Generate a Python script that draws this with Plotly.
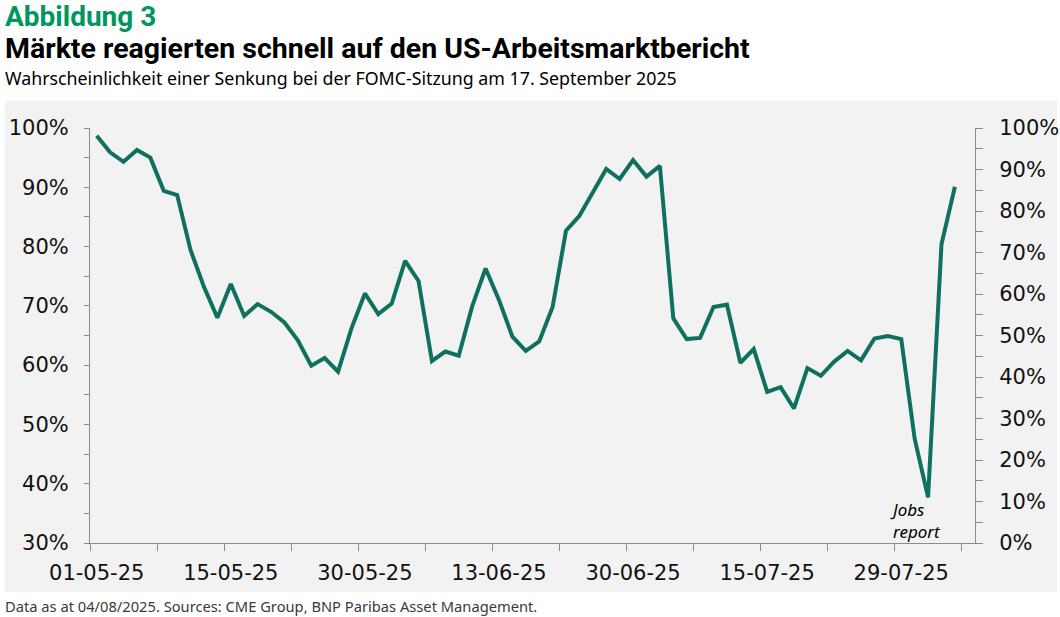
import plotly.graph_objects as go

# ---- data -------------------------------------------------------------
dates = [
    "2025-05-01", "2025-05-02", "2025-05-05", "2025-05-06", "2025-05-07", "2025-05-08", "2025-05-09",
    "2025-05-12", "2025-05-13", "2025-05-14", "2025-05-15", "2025-05-16", "2025-05-19", "2025-05-20",
    "2025-05-21", "2025-05-22", "2025-05-23", "2025-05-27", "2025-05-28", "2025-05-29", "2025-05-30",
    "2025-06-02", "2025-06-03", "2025-06-04", "2025-06-05", "2025-06-06", "2025-06-09", "2025-06-10",
    "2025-06-11", "2025-06-12", "2025-06-13", "2025-06-16", "2025-06-17", "2025-06-18", "2025-06-20",
    "2025-06-23", "2025-06-24", "2025-06-25", "2025-06-26", "2025-06-27", "2025-06-30",
    "2025-07-01", "2025-07-02", "2025-07-03", "2025-07-07", "2025-07-08", "2025-07-09", "2025-07-10",
    "2025-07-11", "2025-07-14", "2025-07-15", "2025-07-16", "2025-07-17", "2025-07-18", "2025-07-21",
    "2025-07-22", "2025-07-23", "2025-07-24", "2025-07-25", "2025-07-28", "2025-07-29", "2025-07-30",
    "2025-07-31", "2025-08-01", "2025-08-04",
]

cut_probability = [
    98.7, 95.9, 94.3, 96.3, 95.0, 89.4, 88.7, 79.4, 73.2, 68.0,
    73.7, 68.3, 70.3, 69.0, 67.2, 64.2, 59.9, 61.2, 58.9, 66.2,
    72.1, 68.6, 70.4, 77.6, 74.2, 60.7, 62.3, 61.6, 69.9, 76.3,
    71.0, 64.8, 62.4, 64.0, 69.8, 82.7, 85.2, 89.3, 93.1, 91.4,
    94.6, 91.8, 93.6, 67.9, 64.4, 64.6, 69.8, 70.2, 60.4, 62.7,
    55.5, 56.3, 52.7, 59.5, 58.2, 60.6, 62.4, 60.8, 64.5, 64.9,
    64.4, 47.6, 37.7, 80.4, 90.1,
]

tick_every = 10
tick_labels = ["01-05-25", "15-05-25", "30-05-25", "13-06-25", "30-06-25", "15-07-25", "29-07-25"]
n_slots = len(dates) + 1          # one empty category at the end

left_ticks = [30, 40, 50, 60, 70, 80, 90, 100]
right_ticks = [0, 10, 20, 30, 40, 50, 60, 70, 80, 90, 100]

title_kicker = "Abbildung 3"
title_main = "Märkte reagierten schnell auf den US-Arbeitsmarktbericht"
subtitle = "Wahrscheinlichkeit einer Senkung bei der FOMC-Sitzung am 17. September 2025"
footer = "Data as at 04/08/2025. Sources: CME Group, BNP Paribas Asset Management."
note = "Jobs<br>report"

# ---- figure -----------------------------------------------------------
idx = list(range(len(dates)))
GREY_AX = "#8c8c8c"
LINE = "#10705f"
TICKFONT = dict(family="DejaVu Sans, sans-serif", size=21, color="#111111")

fig = go.Figure()
fig.add_trace(go.Scatter(
    x=idx, y=cut_probability, mode="lines",
    line=dict(color=LINE, width=4), showlegend=False, hoverinfo="skip",
))
fig.add_trace(go.Scatter(x=[], y=[], yaxis="y2", showlegend=False, hoverinfo="skip"))

fig.update_layout(
    width=1060, height=617,
    margin=dict(l=90, r=85, t=128, b=74, pad=0),
    paper_bgcolor="white",
    plot_bgcolor="rgba(0,0,0,0)",
    xaxis=dict(
        range=[-0.5, n_slots - 0.5], automargin=False,
        tickmode="array",
        tickvals=list(range(0, len(dates), tick_every)),
        ticktext=tick_labels,
        ticks="", showgrid=False, zeroline=False,
        showline=True, linecolor=GREY_AX, linewidth=1,
        tickfont=TICKFONT, ticklabelstandoff=11,
        minor=dict(tickmode="linear", tick0=-0.5, dtick=5, ticks="outside",
                   ticklen=7, tickcolor=GREY_AX, tickwidth=1, showgrid=False),
    ),
    yaxis=dict(
        range=[30, 100], automargin=False, tickmode="array", tickvals=left_ticks,
        ticktext=[f"{v}%" for v in left_ticks],
        ticks="outside", ticklen=5, tickcolor=GREY_AX, tickwidth=1,
        showgrid=False, zeroline=False,
        showline=True, linecolor=GREY_AX, linewidth=1,
        tickfont=TICKFONT, ticklabelstandoff=11,
        minor=dict(tickmode="linear", tick0=30, dtick=5, ticks="outside",
                   ticklen=5, tickcolor=GREY_AX, tickwidth=1, showgrid=False),
    ),
    yaxis2=dict(
        overlaying="y", side="right", anchor="x", automargin=False,
        range=[0, 100], tickmode="array", tickvals=right_ticks,
        ticktext=[f"{v}%" for v in right_ticks],
        ticks="outside", ticklen=7, tickcolor=GREY_AX, tickwidth=1,
        showgrid=False, zeroline=False,
        showline=True, linecolor=GREY_AX, linewidth=1,
        tickfont=TICKFONT, ticklabelstandoff=12,
        minor=dict(tickmode="linear", tick0=0, dtick=5, ticks="outside",
                   ticklen=7, tickcolor=GREY_AX, tickwidth=1, showgrid=False),
    ),
)

# grey chart-area background (pixel box 5..1057 x 101..592)
L, T, W, H = 90, 128, 885, 415
def px_x(p):
    return (p - L) / W
def px_y(p):
    return (T + H - p) / H

fig.add_shape(type="rect", xref="paper", yref="paper",
              x0=px_x(5), x1=px_x(1057), y0=px_y(592), y1=px_y(101),
              fillcolor="#f2f2f2", line=dict(width=0), layer="below")

TITLE_FONT = "Liberation Sans Narrow, Roboto, Arial, sans-serif"
fig.add_annotation(xref="paper", yref="paper", x=px_x(3), y=px_y(16),
                   xanchor="left", yanchor="middle", showarrow=False,
                   text=f"<b>{title_kicker}</b>",
                   font=dict(family=TITLE_FONT, size=28, color="#00965e"))
fig.add_annotation(xref="paper", yref="paper", x=px_x(3), y=px_y(48),
                   xanchor="left", yanchor="middle", showarrow=False,
                   text=f"<b>{title_main}</b>",
                   font=dict(family=TITLE_FONT, size=28.5, color="#000000"))
fig.add_annotation(xref="paper", yref="paper", x=px_x(3), y=px_y(78),
                   xanchor="left", yanchor="middle", showarrow=False,
                   text=subtitle,
                   font=dict(family="Noto Sans, sans-serif", size=17.8, color="#000000"))
fig.add_annotation(xref="paper", yref="paper", x=px_x(3), y=px_y(606),
                   xanchor="left", yanchor="middle", showarrow=False,
                   text=footer,
                   font=dict(family="Noto Sans, sans-serif", size=14.7, color="#3a3a3a"))

imin = cut_probability.index(min(cut_probability))
fig.add_annotation(x=imin, y=cut_probability[imin], xref="x", yref="y",
                   xanchor="right", yanchor="top", align="left",
                   xshift=15, yshift=1, showarrow=False,
                   text=f"<i>{note}</i>",
                   font=dict(family="Noto Sans, sans-serif", size=17, color="#000000"))

fig.write_html("out.html",
               config={"displayModeBar": False},
               post_script="document.body.style.margin='0';document.body.style.padding='0';")
